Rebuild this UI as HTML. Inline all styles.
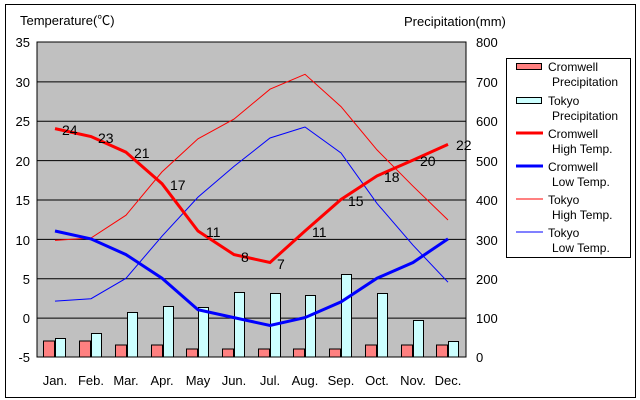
<!DOCTYPE html>
<html><head><meta charset="utf-8"><style>
html,body{margin:0;padding:0;background:#fff;}
svg{display:block;font-family:"Liberation Sans","Noto Sans CJK JP",sans-serif;}
</style></head><body>
<svg width="640" height="400" viewBox="0 0 640 400">
<rect x="5.5" y="4.5" width="630" height="393" fill="#fff" stroke="#000"/>
<text x="20" y="25" font-size="13">Temperature(℃)</text>
<text x="404" y="26" font-size="13">Precipitation(mm)</text>
<rect x="37" y="42" width="429" height="315" fill="#c0c0c0"/>
<g stroke="#000" stroke-width="1">
<line x1="37" y1="81.9" x2="466" y2="81.9"/><line x1="37" y1="121.3" x2="466" y2="121.3"/>
<line x1="37" y1="160.6" x2="466" y2="160.6"/><line x1="37" y1="200" x2="466" y2="200"/>
<line x1="37" y1="239.4" x2="466" y2="239.4"/><line x1="37" y1="278.8" x2="466" y2="278.8"/>
<line x1="37" y1="318.1" x2="466" y2="318.1"/>
</g>
<g font-size="13" text-anchor="end">
<text x="30" y="47">35</text><text x="30" y="87">30</text><text x="30" y="126">25</text><text x="30" y="166">20</text><text x="30" y="205">15</text><text x="30" y="245">10</text><text x="30" y="284">5</text><text x="30" y="323">0</text><text x="30" y="362">-5</text>
</g>
<g font-size="13">
<text x="476" y="47">800</text><text x="476" y="87">700</text><text x="476" y="126">600</text><text x="476" y="166">500</text><text x="476" y="205">400</text><text x="476" y="245">300</text><text x="476" y="284">200</text><text x="476" y="323">100</text><text x="476" y="362">0</text>
</g>
<g stroke="#000" stroke-width="1">
<rect x="43.5" y="341" width="11" height="16" fill="#ff8080"/><rect x="55.5" y="338.5" width="10" height="18.5" fill="#ccffff"/>
<rect x="79.5" y="341" width="11" height="16" fill="#ff8080"/><rect x="91.5" y="333.5" width="10" height="23.5" fill="#ccffff"/>
<rect x="115.5" y="345" width="11" height="12" fill="#ff8080"/><rect x="127.5" y="312.5" width="10" height="44.5" fill="#ccffff"/>
<rect x="151.5" y="345" width="11" height="12" fill="#ff8080"/><rect x="163.5" y="306.5" width="10" height="50.5" fill="#ccffff"/>
<rect x="186.5" y="349" width="11" height="8" fill="#ff8080"/><rect x="198.5" y="307.5" width="10" height="49.5" fill="#ccffff"/>
<rect x="222.5" y="349" width="11" height="8" fill="#ff8080"/><rect x="234.5" y="292.5" width="10" height="64.5" fill="#ccffff"/>
<rect x="258.5" y="349" width="11" height="8" fill="#ff8080"/><rect x="270.5" y="293.5" width="10" height="63.5" fill="#ccffff"/>
<rect x="293.5" y="349" width="11" height="8" fill="#ff8080"/><rect x="305.5" y="295.5" width="10" height="61.5" fill="#ccffff"/>
<rect x="329.5" y="349" width="11" height="8" fill="#ff8080"/><rect x="341.5" y="274.5" width="10" height="82.5" fill="#ccffff"/>
<rect x="365.5" y="345" width="11" height="12" fill="#ff8080"/><rect x="377.5" y="293.5" width="10" height="63.5" fill="#ccffff"/>
<rect x="401.5" y="345" width="11" height="12" fill="#ff8080"/><rect x="413.5" y="320.5" width="10" height="36.5" fill="#ccffff"/>
<rect x="436.5" y="345" width="11" height="12" fill="#ff8080"/><rect x="448.5" y="341.5" width="10" height="15.5" fill="#ccffff"/>
</g>
<rect x="37" y="42" width="429" height="315" fill="none" stroke="#000"/>
<g font-size="13" text-anchor="middle">
<text x="55" y="385">Jan.</text><text x="91" y="385">Feb.</text><text x="126" y="385">Mar.</text><text x="162" y="385">Apr.</text><text x="198" y="385">May</text><text x="234" y="385">Jun.</text><text x="270" y="385">Jul.</text><text x="305" y="385">Aug.</text><text x="341" y="385">Sep.</text><text x="377" y="385">Oct.</text><text x="413" y="385">Nov.</text><text x="448" y="385">Dec.</text>
</g>
<polyline fill="none" stroke="#f00" stroke-width="1" points="55,240.4 91,238 126,215.2 162,171.9 198,138.8 234,119.1 270,89.2 305,74.3 341,106.6 377,149.9 413,186.2 448,220"/>
<polyline fill="none" stroke="#00f" stroke-width="1" points="55,301.1 91,298.7 126,278.3 162,236.2 198,197.1 234,166.4 270,138 305,127 341,153 377,203.4 413,245.2 448,282.2"/>
<polyline fill="none" stroke="#f00" stroke-width="3" points="55,128.6 91,136.5 126,152.2 162,183.7 198,231 234,254.6 270,262.5 305,231 341,199.5 377,175.9 413,160.1 448,144.4"/>
<polyline fill="none" stroke="#00f" stroke-width="3" points="55,231 91,238.9 126,254.6 162,278.2 198,309.7 234,317.6 270,325.5 305,317.6 341,301.9 377,278.2 413,262.5 448,238.9"/>
<g font-size="14" fill="#000">
<text x="62" y="135">24</text><text x="98" y="143">23</text><text x="134" y="158">21</text><text x="170" y="190">17</text><text x="206" y="237">11</text><text x="241" y="262">8</text><text x="277" y="269">7</text><text x="312" y="237">11</text><text x="348" y="206">15</text><text x="384" y="182">18</text><text x="420" y="166">20</text><text x="456" y="150">22</text>
</g>
<rect x="506.5" y="58.5" width="124" height="199" fill="#fff" stroke="#000"/>
<g font-size="12">
<rect x="516.5" y="63.5" width="25" height="6" fill="#ff8080" stroke="#000"/>
<text x="548" y="71">Cromwell</text><text x="552" y="86">Precipitation</text>
<rect x="516.5" y="97.5" width="25" height="6" fill="#ccffff" stroke="#000"/>
<text x="548" y="105">Tokyo</text><text x="552" y="120">Precipitation</text>
<line x1="516" y1="133" x2="543" y2="133" stroke="#f00" stroke-width="3"/>
<text x="548" y="138">Cromwell</text><text x="552" y="153">High Temp.</text>
<line x1="516" y1="166" x2="543" y2="166" stroke="#00f" stroke-width="3"/>
<text x="548" y="171">Cromwell</text><text x="552" y="186">Low Temp.</text>
<line x1="516" y1="199" x2="543" y2="199" stroke="#f00" stroke-width="1"/>
<text x="548" y="204">Tokyo</text><text x="552" y="219">High Temp.</text>
<line x1="516" y1="232" x2="543" y2="232" stroke="#00f" stroke-width="1"/>
<text x="548" y="237">Tokyo</text><text x="552" y="252">Low Temp.</text>
</g>
</svg>
</body></html>
